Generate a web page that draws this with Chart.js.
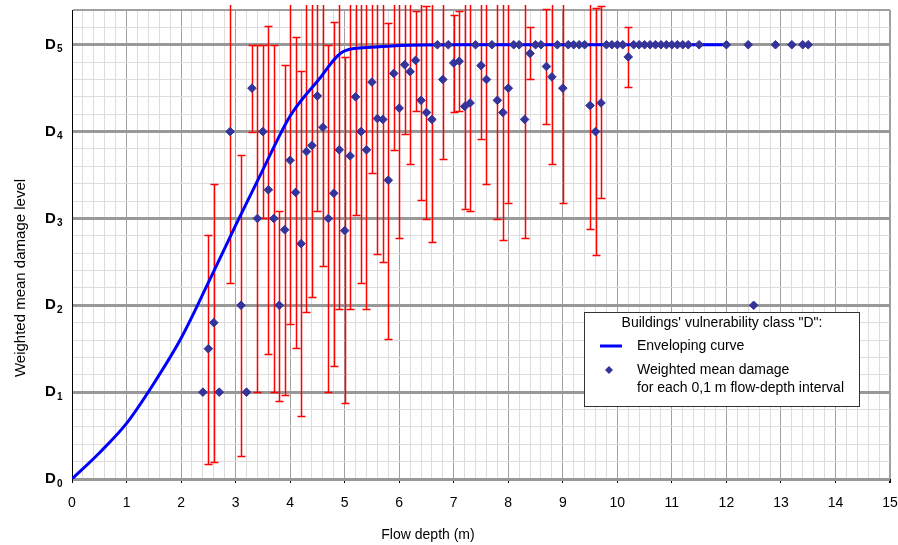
<!DOCTYPE html>
<html>
<head>
<meta charset="utf-8">
<script src="https://cdn.jsdelivr.net/npm/chart.js@4"></script>
<style>
  html, body { margin: 0; padding: 0; background: #fff; }
</style>
</head>
<body>
<canvas id="chart" width="898" height="545"></canvas>
<script>
// flow depth classes (0,1 m intervals) and weighted mean damage level
const depths = [2.4, 2.5, 2.6, 2.7, 2.9, 3.1, 3.2, 3.3, 3.4, 3.5, 3.6, 3.7, 3.8, 3.9, 4.0,
  4.1, 4.2, 4.3, 4.4, 4.5, 4.6, 4.7, 4.8, 4.9, 5.0, 5.1, 5.2, 5.3, 5.4, 5.5, 5.6, 5.7, 5.8,
  5.9, 6.0, 6.1, 6.2, 6.3, 6.4, 6.5, 6.6, 6.7, 6.8, 6.9, 7.0, 7.1, 7.2, 7.3, 7.4, 7.5, 7.6,
  7.7, 7.8, 7.9, 8.0, 8.1, 8.2, 8.3, 8.4, 8.5, 8.6, 8.7, 8.8, 8.9, 9.0, 9.1, 9.2, 9.3, 9.4,
  9.5, 9.6, 9.7, 9.8, 9.9, 10.0, 10.1, 10.2, 10.3, 10.4, 10.5, 10.6, 10.7, 10.8, 10.9, 11.0,
  11.1, 11.2, 11.3, 11.5, 12.0, 12.4, 12.5, 12.9, 13.2, 13.4, 13.5];
const meanDamage = [1.0, 1.5, 1.8, 1.0, 4.0, 2.0, 1.0, 4.5, 3.0, 4.0, 3.33, 3.0, 2.0, 2.87, 3.67,
  3.3, 2.71, 3.77, 3.84, 4.41, 4.05, 3.0, 3.29, 3.79, 2.86, 3.72, 4.4, 4.0, 3.79, 4.57, 4.15, 4.14, 3.44,
  4.67, 4.27, 4.77, 4.69, 4.82, 4.36, 4.22, 4.14, 5.0, 4.6, 5.0, 4.79, 4.81, 4.29, 4.33, 5.0, 4.76, 4.6,
  5.0, 4.36, 4.22, 4.5, 5.0, 5.0, 4.14, 4.9, 5.0, 5.0, 4.75, 4.63, 5.0, 4.5, 5.0, 5.0, 5.0, 5.0,
  4.3, 4.0, 4.33, 5.0, 5.0, 5.0, 5.0, 4.86, 5.0, 5.0, 5.0, 5.0, 5.0, 5.0, 5.0, 5.0,
  5.0, 5.0, 5.0, 5.0, 5.0, 5.0, 2.0, 5.0, 5.0, 5.0, 5.0];
// error bar ends (null = no bar); values above 5.4 run off the top of the plot
const barLow = [null, 0.17, 0.19, null, 2.26, 0.27, null, 4.0, 1.0, 3.0, 1.44, 1.0, 0.9, 0.97, 1.78,
  1.51, 0.73, 1.92, 2.1, 3.08, 2.45, 1.0, 1.3, 1.96, 0.87, 1.96, 3.04, 2.26, 1.96, 3.52, 2.59, 2.5, 1.61,
  3.79, 2.78, 3.97, 3.63, 4.24, 3.21, 2.99, 2.73, null, 3.68, null, 4.23, 4.24, 3.11, 3.09, null, 3.92, 3.4,
  null, 2.99, 2.75, 3.18, null, null, 2.78, 4.6, null, null, 4.09, 3.63, null, 3.18, null, null, null, null,
  2.88, 2.58, 3.23, null, null, null, null, 4.51, null, null, null, null, null, null, null, null,
  null, null, null, null, null, null, null, null, null, null, null];
const barHigh = [null, 2.81, 3.4, null, 5.6, 3.73, null, 5.0, 5.0, 5.0, 5.22, 5.0, 3.09, 4.77, 5.6,
  5.09, 4.7, 5.6, 5.6, 5.6, 5.6, 5.0, 5.26, 5.6, 4.86, 5.6, 5.6, 5.6, 5.6, 5.6, 5.6, 5.6, 5.25,
  5.6, 5.6, 5.6, 5.6, 5.39, 5.6, 5.45, 5.6, null, 5.6, null, 5.34, 5.39, 5.6, 5.6, null, 5.6, 5.6,
  null, 5.6, 5.6, 5.6, null, null, 5.6, 5.2, null, null, 5.41, 5.6, null, 5.6, null, null, null, null,
  5.6, 5.42, 5.45, null, null, null, null, 5.21, null, null, null, null, null, null, null, null,
  null, null, null, null, null, null, null, null, null, null, null];

// enveloping curve
const curveDepth = [0, 0.5, 1, 1.5, 2, 2.5, 3, 3.5, 4, 4.5, 5, 5.5, 6, 7, 8, 9, 10, 11, 12];
const curveDamage = [0, 0.3, 0.64, 1.1, 1.62, 2.26, 2.92, 3.56, 4.18, 4.58, 4.93, 4.97, 4.99, 5, 5, 5, 5, 5, 5];

const damageLevels = ['0', '1', '2', '3', '4', '5'];   // shown as D0 .. D5
const xTitle = 'Flow depth (m)';
const yTitle = 'Weighted mean damage level';
const legendTitle = 'Buildings\' vulnerability class "D":';

const FONT = '"Liberation Sans", Arial, sans-serif';
const isWhole = v => Math.abs(v - Math.round(v)) < 1e-6;

const errorBars = {
  id: 'errorBars',
  beforeDatasetsDraw(chart) {
    const { ctx, chartArea, scales: { x, y } } = chart;
    ctx.save();
    ctx.beginPath();
    ctx.rect(chartArea.left, chartArea.top - 5, chartArea.width, chartArea.height + 5);
    ctx.clip();
    ctx.strokeStyle = '#ff0000';
    ctx.lineWidth = 1.5;
    depths.forEach((d, i) => {
      if (barLow[i] == null) return;
      const px = Math.round(x.getPixelForValue(d)) + 0.5;
      const lo = Math.round(y.getPixelForValue(barLow[i])) + 0.5;
      const hi = Math.round(y.getPixelForValue(barHigh[i])) + 0.5;
      ctx.beginPath();
      ctx.moveTo(px, lo);
      ctx.lineTo(px, hi);
      ctx.moveTo(px - 4, lo);
      ctx.lineTo(px + 4, lo);
      ctx.moveTo(px - 4, hi);
      ctx.lineTo(px + 4, hi);
      ctx.stroke();
    });
    ctx.restore();
  }
};

const decorations = {
  id: 'decorations',
  afterDraw(chart) {
    const { ctx, scales: { y } } = chart;
    ctx.save();
    ctx.fillStyle = '#000';

    // D0..D5 labels
    ctx.textBaseline = 'middle';
    ctx.textAlign = 'left';
    damageLevels.forEach((lvl, i) => {
      const py = y.getPixelForValue(i);
      ctx.font = 'bold 15px ' + FONT;
      ctx.fillText('D', 45, py);
      ctx.font = 'bold 10px ' + FONT;
      ctx.fillText(lvl, 57, py + 5);
    });

    // axis titles
    ctx.font = '14px ' + FONT;
    ctx.textAlign = 'center';
    ctx.fillText(xTitle, 428, 535);
    ctx.save();
    ctx.translate(21, 278);
    ctx.rotate(-Math.PI / 2);
    ctx.font = '15px ' + FONT;
    ctx.fillText(yTitle, 0, 0);
    ctx.restore();

    // legend box
    ctx.fillStyle = '#fff';
    ctx.fillRect(584, 312, 275, 94);
    ctx.strokeStyle = '#333';
    ctx.lineWidth = 1;
    ctx.strokeRect(584.5, 312.5, 275, 94);
    ctx.fillStyle = '#000';
    ctx.font = '14px ' + FONT;
    ctx.textAlign = 'center';
    ctx.fillText(legendTitle, 722, 323);
    ctx.textAlign = 'left';
    ctx.fillText('Enveloping curve', 637, 346);
    ctx.fillText('Weighted mean damage', 637, 370);
    ctx.fillText('for each 0,1 m flow-depth interval', 637, 388);
    ctx.strokeStyle = '#0000ff';
    ctx.lineWidth = 3;
    ctx.beginPath();
    ctx.moveTo(600, 346);
    ctx.lineTo(622, 346);
    ctx.stroke();
    ctx.fillStyle = '#333399';
    ctx.beginPath();
    ctx.moveTo(609, 366);
    ctx.lineTo(613, 370);
    ctx.lineTo(609, 374);
    ctx.lineTo(605, 370);
    ctx.closePath();
    ctx.fill();
    ctx.restore();
  }
};

new Chart(document.getElementById('chart'), {
  type: 'scatter',
  data: {
    datasets: [
      {
        label: 'Weighted mean damage for each 0,1 m flow-depth interval',
        data: depths.map((d, i) => ({ x: d, y: meanDamage[i] })),
        pointStyle: 'rectRot',
        pointRadius: 4.3,
        pointBackgroundColor: '#333399',
        pointBorderColor: '#333399',
        pointBorderWidth: 1,
        order: 0
      },
      {
        type: 'line',
        label: 'Enveloping curve',
        data: curveDepth.map((d, i) => ({ x: d, y: curveDamage[i] })),
        borderColor: '#0000ff',
        borderWidth: 3,
        pointRadius: 0,
        cubicInterpolationMode: 'monotone',
        fill: false,
        order: 1
      }
    ]
  },
  options: {
    responsive: false,
    animation: false,
    layout: { padding: { top: 10, right: 8, left: 0, bottom: 0 } },
    plugins: { legend: { display: false }, tooltip: { enabled: false } },
    scales: {
      x: {
        type: 'linear',
        min: 0,
        max: 15,
        afterFit: s => { s.height = 66; s.paddingLeft = 0; s.paddingRight = 0; },
        border: { display: false },
        grid: {
          color: c => c.tick.value === 0 ? '#000' : (isWhole(c.tick.value) ? '#a0a0a0' : '#dddddd'),
          lineWidth: c => c.tick.value > 14.9 ? 2 : 1,
          tickLength: 4,
          tickColor: c => isWhole(c.tick.value) ? '#000' : 'rgba(0,0,0,0)'
        },
        ticks: {
          stepSize: 0.2,
          autoSkip: false,
          maxRotation: 0,
          padding: 12,
          color: '#000',
          font: { family: FONT, size: 14 },
          callback: v => isWhole(v) ? String(Math.round(v)) : ''
        }
      },
      y: {
        min: 0,
        max: 5.4,
        afterFit: s => { s.width = 72; s.paddingTop = 0; s.paddingBottom = 0; },
        border: { display: true, color: '#000', width: 1 },
        grid: {
          color: c => isWhole(c.tick.value) ? '#999999' : (c.tick.value > 5.3 ? '#a0a0a0' : '#dddddd'),
          lineWidth: c => isWhole(c.tick.value) ? 3 : (c.tick.value > 5.3 ? 2 : 1),
          drawTicks: false
        },
        ticks: { stepSize: 0.2, autoSkip: false, display: false }
      }
    }
  },
  plugins: [errorBars, decorations]
});
</script>
</body>
</html>
